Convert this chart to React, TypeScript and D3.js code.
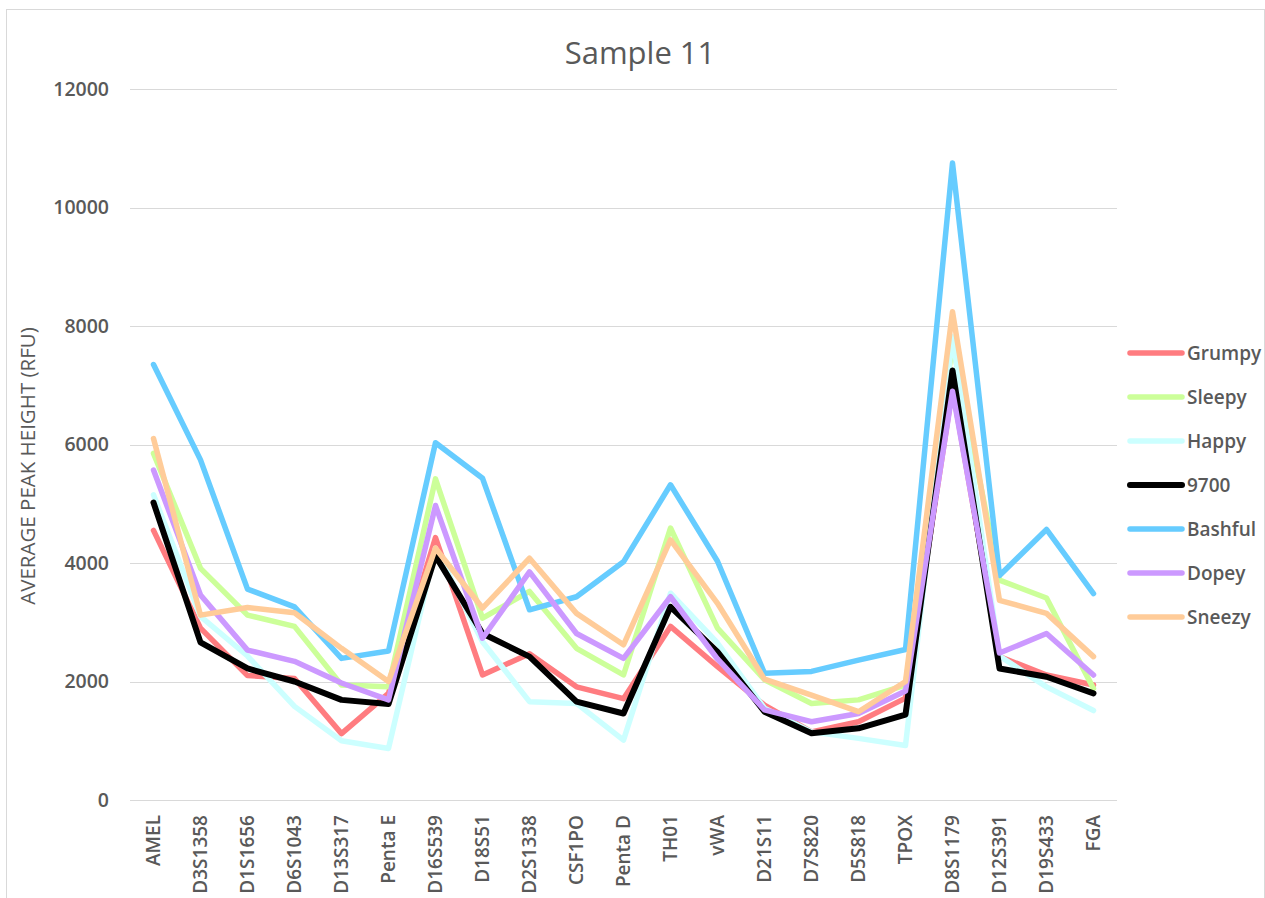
import React from "react";
import * as d3 from "d3";

const categories = ["AMEL", "D3S1358", "D1S1656", "D6S1043", "D13S317", "Penta E", "D16S539", "D18S51", "D2S1338", "CSF1PO", "Penta D", "TH01", "vWA", "D21S11", "D7S820", "D5S818", "TPOX", "D8S1179", "D12S391", "D19S433", "FGA"];

const grumpy = [4550, 2900, 2100, 2050, 1120, 1800, 4430, 2110, 2470, 1910, 1710, 2930, 2250, 1600, 1150, 1320, 1720, 6950, 2420, 2110, 1940];
const sleepy = [5850, 3910, 3120, 2930, 1940, 1910, 5420, 3070, 3520, 2560, 2110, 4590, 2900, 2030, 1630, 1690, 1940, 7700, 3710, 3410, 1880];
const happy = [5150, 3100, 2430, 1580, 1000, 870, 4250, 2670, 1660, 1630, 1010, 3490, 2650, 1550, 1150, 1040, 920, 7820, 2430, 1910, 1510];
const s9700 = [5020, 2660, 2220, 2000, 1690, 1620, 4120, 2810, 2420, 1660, 1460, 3260, 2500, 1490, 1125, 1210, 1440, 7250, 2220, 2080, 1800];
const bashful = [7350, 5740, 3560, 3260, 2390, 2515, 6030, 5430, 3210, 3430, 4020, 5320, 4030, 2140, 2170, 2360, 2540, 10750, 3790, 4566, 3485];
const dopey = [5570, 3460, 2530, 2340, 1975, 1690, 4970, 2730, 3850, 2810, 2390, 3430, 2380, 1520, 1320, 1460, 1840, 6900, 2480, 2810, 2110];
const sneezy = [6100, 3120, 3250, 3160, 2560, 2000, 4250, 3240, 4080, 3150, 2620, 4390, 3320, 2040, 1770, 1490, 2000, 8240, 3370, 3150, 2420];

const yTicks = [0, 2000, 4000, 6000, 8000, 10000, 12000];

const seriesNames = ["Grumpy", "Sleepy", "Happy", "9700", "Bashful", "Dopey", "Sneezy"];
const seriesValues = [grumpy, sleepy, happy, s9700, bashful, dopey, sneezy];
const seriesColors = ["#FF7C80", "#CCFF99", "#CCFFFF", "#000000", "#66CCFF", "#CC99FF", "#FFCC99"];

const W = 1265;
const H = 898;
const left = 130;
const right = 1117;
const top = 89;
const bottom = 800;
const textColor = "#595959";
const font = "'Open Sans', sans-serif";

export default function App() {
  const x = d3.scaleBand<string>().domain(categories).range([left, right]);
  const y = d3.scaleLinear().domain([0, 12000]).range([bottom, top]);
  const cx = (c: string) => (x(c) as number) + x.bandwidth() / 2;
  const line = d3
    .line<number>()
    .x((_, i) => cx(categories[i]))
    .y((d) => y(d));

  return (
    <svg width={W} height={H} style={{ position: "absolute", left: 0, top: 0, background: "#fff" }} fontFamily={font}>
      <rect x={0} y={0} width={W} height={H} fill="#fff" />
      <rect x={6.5} y={9.5} width={1258} height={890} fill="none" stroke="#d9d9d9" strokeWidth={1} />
      <text x={640} y={64} textAnchor="middle" fontSize={31} fill={textColor}>
        Sample 11
      </text>
      {yTicks.map((t) => (
        <g key={t}>
          <line x1={left} x2={right} y1={Math.round(y(t)) + 0.5} y2={Math.round(y(t)) + 0.5} stroke="#d9d9d9" strokeWidth={1} />
          <text x={109} y={y(t)} dy="0.35em" textAnchor="end" fontSize={19.5} fontWeight={600} fill={textColor}>
            {t}
          </text>
        </g>
      ))}
      <text
        transform={`translate(35, 466) rotate(-90)`}
        textAnchor="middle"
        fontSize={20.5}
        fill={textColor}
      >
        AVERAGE PEAK HEIGHT (RFU)
      </text>
      {categories.map((c) => (
        <text
          key={c}
          transform={`translate(${cx(c)}, 815) rotate(-90)`}
          textAnchor="end"
          dy="0.35em"
          fontSize={19}
          fontWeight={600}
          fill={textColor}
        >
          {c}
        </text>
      ))}
      {seriesValues.map((vals, i) => (
        <path
          key={seriesNames[i]}
          d={line(vals) || ""}
          fill="none"
          stroke={seriesColors[i]}
          strokeWidth={seriesNames[i] === "9700" ? 6 : 5.5}
          strokeLinejoin="round"
          strokeLinecap="round"
        />
      ))}
      {seriesNames.map((n, i) => {
        const ly = 353 + i * 44;
        return (
          <g key={n}>
            <line x1={1130} x2={1182} y1={ly} y2={ly} stroke={seriesColors[i]} strokeWidth={n === "9700" ? 6 : 5.5} strokeLinecap="round" />
            <text x={1187} y={ly} dy="0.35em" fontSize={19} fontWeight={600} fill={textColor}>
              {n}
            </text>
          </g>
        );
      })}
    </svg>
  );
}
